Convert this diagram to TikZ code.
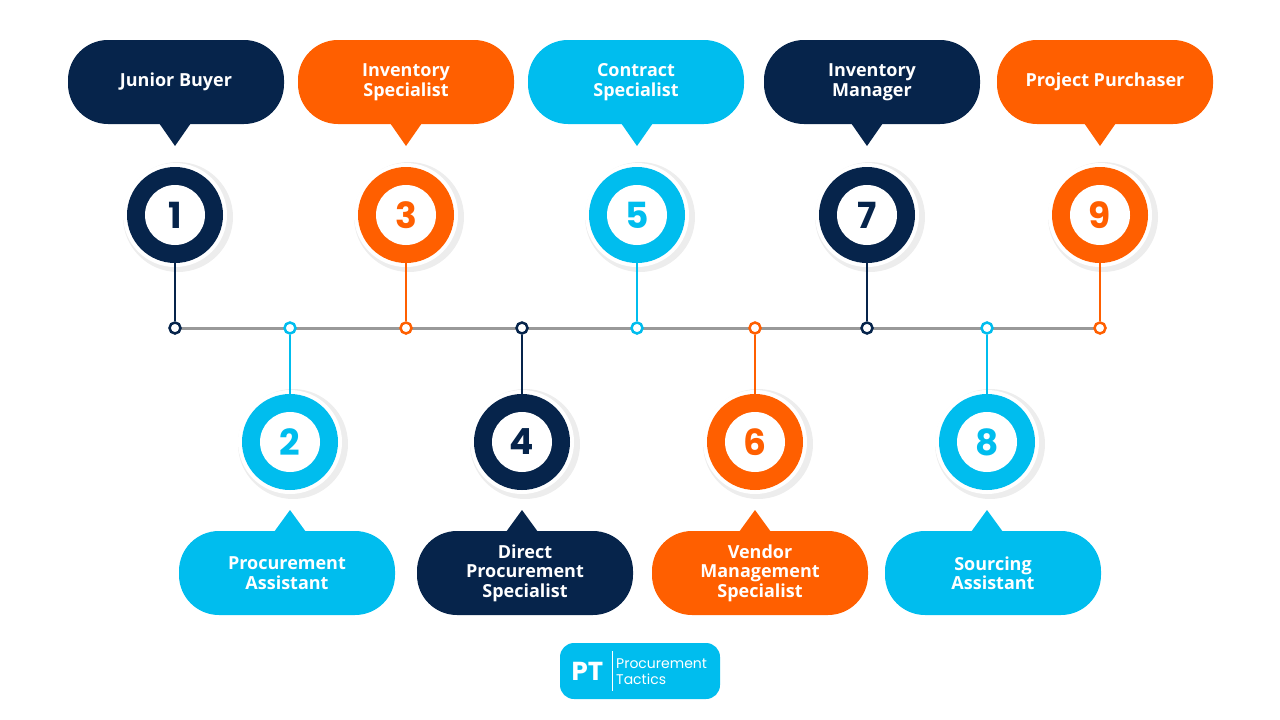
\documentclass[tikz,border=0pt]{standalone}
\usepackage{fontspec}
\setmainfont{Open Sans}
\newfontfamily\numfont{Poppins}
\usetikzlibrary{positioning}
\definecolor{navy}{HTML}{06244B}
\definecolor{orng}{HTML}{FF5F00}
\definecolor{cyn}{HTML}{00BDEE}
\definecolor{halo}{HTML}{EDEDED}
\tikzset{
  bubble/.style={rounded corners=40pt, minimum width=216pt, minimum height=84pt,
    text=white, font=\fontsize{18}{19.5}\selectfont\bfseries, align=center, inner sep=0pt},
  ring/.style={circle, minimum size=96pt, inner sep=0pt},
  hole/.style={circle, fill=white, minimum size=60pt, inner sep=0pt,
    font=\numfont\fontsize{36}{36}\selectfont\bfseries},
  dot/.style={circle, draw=#1, fill=white, line width=2.5pt, minimum size=11pt, inner sep=0pt},
  stem/.style={draw=#1, line width=2pt}
}
\begin{document}
\begin{tikzpicture}[x=1pt,y=-1pt]
  \useasboundingbox (0,0) rectangle (1280,720);
  \draw[line width=3pt, gray!80] (175,328) -- (1100,328);
  % top row
  \foreach \n/\cx/\bx/\col/\txt in {1/175/176/navy/Junior Buyer,
      3/406/406/orng/Inventory\\Specialist,
      5/637/636/cyn/Contract\\Specialist,
      7/867/872/navy/Inventory\\Manager,
      9/1100/1105/orng/Project Purchaser}{
    \node[bubble, fill=\col] (b\n) at (\bx,82) {\txt};
    \fill[\col] (\cx-16,123) -- (\cx+16,123) -- (\cx,146) -- cycle;
    \fill[halo] (\cx+3,217) circle (55);
    \fill[white] (\cx,215) circle (52);
    \node[ring, fill=\col] (c\n) at (\cx,215) {};
    \node[hole, text=\col] (h\n) at (c\n) {\n};
    \node[dot=\col] (d\n) at (\cx,328) {};
    \draw[stem=\col] (c\n.south) -- (d\n.north);
  }
  % bottom row
  \foreach \n/\cx/\bx/\col/\txt in {2/290/287/cyn/Procurement\\Assistant,
      4/522/525/navy/Direct\\Procurement\\Specialist,
      6/755/760/orng/Vendor\\Management\\Specialist,
      8/987/993/cyn/Sourcing\\Assistant}{
    \node[bubble, fill=\col] (b\n) at (\bx,573) {\txt};
    \fill[\col] (\cx-16,532) -- (\cx+16,532) -- (\cx,510) -- cycle;
    \fill[halo] (\cx+3,444) circle (55);
    \fill[white] (\cx,442) circle (52);
    \node[ring, fill=\col] (c\n) at (\cx,442) {};
    \node[hole, text=\col] (h\n) at (c\n) {\n};
    \node[dot=\col] (d\n) at (\cx,328) {};
    \draw[stem=\col] (c\n.north) -- (d\n.south);
  }
  % logo
  \node[fill=cyn, rounded corners=14pt, minimum width=160pt, minimum height=56pt] (logo) at (640,671) {};
  \node[text=white, font=\numfont\fontsize{26}{26}\selectfont\bfseries, anchor=west] (pt) at (568,671) {PT};
  \draw[white, line width=0.8pt] (612,651) -- (612,691);
  \node[text=white, font=\numfont\fontsize{14}{16}\selectfont, align=left, anchor=west, inner sep=0pt] (name) at (616,672) {Procurement\\Tactics};
\end{tikzpicture}
\end{document}
